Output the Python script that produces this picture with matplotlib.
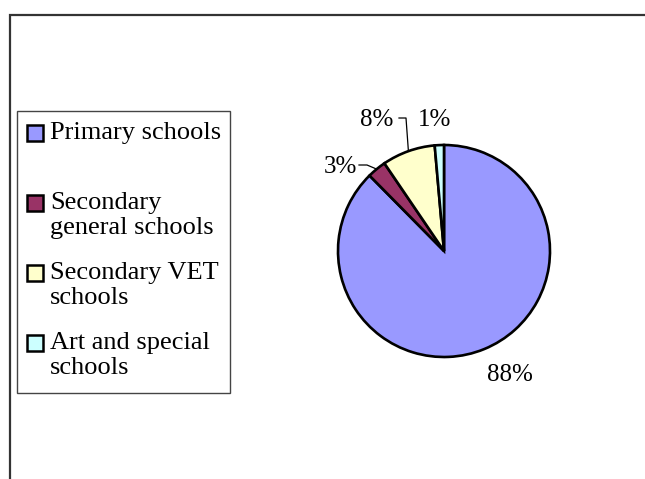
import numpy as np
import matplotlib
matplotlib.use("Agg")
import matplotlib.pyplot as plt
from matplotlib.patches import Rectangle
from matplotlib.lines import Line2D
from matplotlib.transforms import IdentityTransform

# ---- data ----
categories = ["Primary schools", "Secondary\ngeneral schools",
              "Secondary VET\nschools", "Art and special\nschools"]
shares = [87.6, 2.9, 8.1, 1.4]
colors = ["#9999FF", "#993366", "#FFFFCC", "#CCFFFF"]

W, H, DPI = 645, 479, 100
FONT = "Liberation Serif"
fig = plt.figure(figsize=(W / DPI, H / DPI), dpi=DPI)

def disp(x, y_top):
    """pixel coords measured from top-left -> display coords"""
    return x, H - y_top

# outer chart-area frame (clipped by the figure on the right/bottom)
fig.add_artist(Rectangle(disp(10, 500), 700, 485, transform=IdentityTransform(),
                         fill=False, edgecolor="#333333", lw=1.6))

# ---- pie ----
cx, cy, r = 444, 251, 106
ax = fig.add_axes([(cx - r) / W, (H - cy - r) / H, 2 * r / W, 2 * r / H])
wedges, _ = ax.pie(shares, colors=colors, startangle=90, counterclock=False,
                   wedgeprops=dict(edgecolor="black", linewidth=1.9))
ax.set_xlim(-1, 1)
ax.set_ylim(-1, 1)
ax.set_aspect("equal")
ax.axis("off")
for w in wedges:
    w.set_clip_on(False)

# percentage labels (text centre in pixels from top-left), leader elbow
label_pos = [(510, 375), (340, 167), (377, 120), (435, 120)]
leaders = [None, (359, 367, 165), (399, 406, 118), None]
fs = 18
for w, v, (tx, ty), ld in zip(wedges, shares, label_pos, leaders):
    fig.text(tx / W, 1 - ty / H, f"{round(v)}%", fontsize=fs, family=FONT,
             ha="center", va="center")
    if ld is not None:
        mid = np.deg2rad((w.theta1 + w.theta2) / 2)
        ex, ey = ax.transData.transform((np.cos(mid), np.sin(mid)))
        x0, x1, yy = ld
        fig.add_artist(Line2D([x0, x1, ex], [H - yy, H - yy, ey],
                              transform=IdentityTransform(), color="black", lw=0.9))

# ---- legend (built manually so the swatch sits on the first text line) ----
lx0, lx1, ly0, ly1 = 17, 230, 111, 393
fig.add_artist(Rectangle(disp(lx0, ly1), lx1 - lx0, ly1 - ly0,
                         transform=IdentityTransform(), fill=False,
                         edgecolor="#444444", lw=1.0))
first_y = [133, 203, 273, 343]
for lab, col, y in zip(categories, colors, first_y):
    fig.add_artist(Rectangle(disp(26.5, y + 7.5), 16, 16, transform=IdentityTransform(),
                             facecolor=col, edgecolor="black", lw=1.8))
    for i, line in enumerate(lab.split("\n")):
        fig.text(50 / W, 1 - (y + 25 * i) / H, line, fontsize=19, family=FONT,
                 ha="left", va="center")

fig.savefig("out.png", dpi=DPI)
